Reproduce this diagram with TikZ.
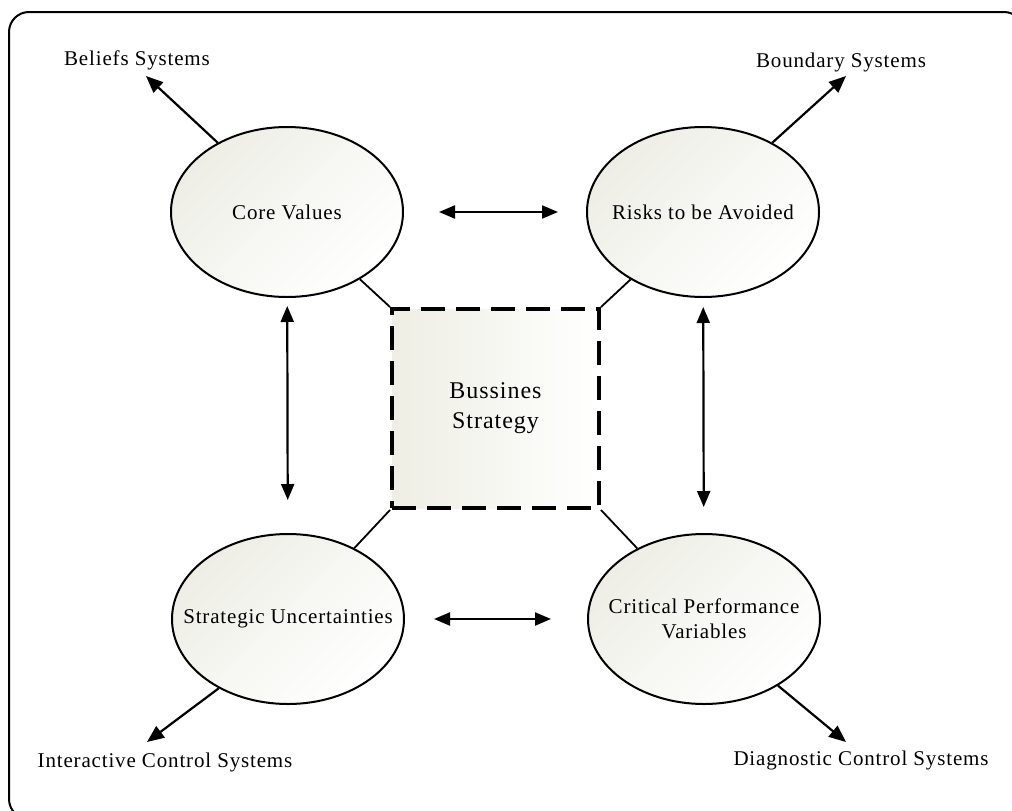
\documentclass[tikz,border=0pt]{standalone}
\usepackage{fontspec}
\setmainfont{Liberation Serif}
\newfontfamily\lsfont[LetterSpace=4]{Liberation Serif}
\usetikzlibrary{shapes.geometric,arrows.meta}
\definecolor{shadeA}{RGB}{238,238,230}
\definecolor{shadeB}{RGB}{238,238,228}
\begin{document}
\begin{tikzpicture}[x=1pt,y=-1pt,
  every node/.style={font=\fontsize{21}{25}\selectfont\lsfont},
  oval/.style={ellipse, draw, line width=2pt, minimum width=232pt, minimum height=170pt,
    inner sep=0pt, top color=shadeA, bottom color=white, shading angle=45},
  ovaltext/.style={inner sep=0pt, align=center},
  core/.style={rectangle, draw, line width=4pt, dash pattern=on 24pt off 11pt,
    minimum width=207pt, minimum height=199pt, left color=shadeB, right color=white,
    align=center, font=\fontsize{24}{30}\selectfont\lsfont},
  label/.style={inner sep=0pt},
  link/.style={line width=1.8pt},
  arr/.style={line width=2.2pt, -{Triangle[length=17pt,width=14pt]}},
  darr/.style={line width=2.2pt, {Triangle[length=16pt,width=13pt]}-{Triangle[length=16pt,width=13pt]}}
]
\useasboundingbox (0,0) rectangle (1012,811);
\draw[line width=2pt, rounded corners=20pt] (9,12) rectangle (1024,819);

\node[oval] (cv) at (287,212) {};
\node[oval] (ra) at (703,212) {};
\node[oval] (su) at (288,619) {};
\node[oval] (cp) at (704,619) {};
\node[ovaltext] (cvt) at (cv) {Core Values};
\node[ovaltext] (rat) at (ra) {Risks to be Avoided};
\node[ovaltext] (sut) at (su) {Strategic Uncertainties};
\node[ovaltext] (cpt) at (cp) {Critical Performance\\Variables};
\node[core] (bs) at (495.5,408.5) {Bussines\\Strategy};

\node[label] (lb) at (137,60) {Beliefs Systems};
\node[label] (lbo) at (841,62) {Boundary Systems};
\node[label] (li) at (165,762) {Interactive Control Systems};
\node[label] (ld) at (861,760) {Diagnostic Control Systems};

\coordinate (tb) at (146,76);
\coordinate (tbo) at (846,76);
\coordinate (ti) at (147,742);
\coordinate (td) at (846,742);

\draw[link] (bs.north west) -- (cv);
\draw[link] (bs.north east) -- (ra);
\draw[link] (bs.south west) -- (su);
\draw[link] (bs.south east) -- (cp);

\draw[arr] (cv.135) -- (tb);
\draw[arr] (ra.45) -- (tbo);
\draw[arr] (su.225) -- (ti);
\draw[arr] (cp.318) -- (td);

\draw[darr, shorten <=35pt, shorten >=28pt] (cv) -- (ra);
\draw[darr, shorten <=29pt, shorten >=36pt] (su) -- (cp);
\draw[darr, shorten <=8pt, shorten >=33pt] (cv) -- (su);
\draw[darr, shorten <=9pt, shorten >=26pt] (ra) -- (cp);
\end{tikzpicture}
\end{document}
